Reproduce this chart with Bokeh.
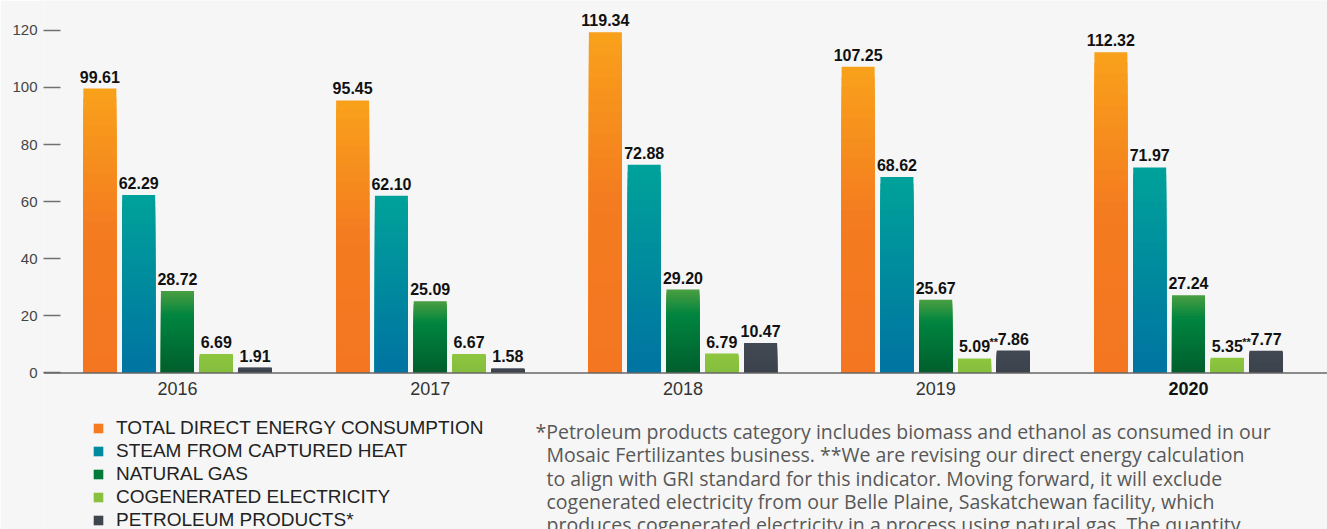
from bokeh.plotting import figure
from bokeh.models import (ColumnDataSource, Range1d, FixedTicker, Span,
                          Legend, LegendItem, Label)
from bokeh.transform import dodge
from bokeh.core.properties import value
from bokeh.embed import file_html
from bokeh.resources import INLINE

# ---------------- data ----------------
years = [2016, 2017, 2018, 2019, 2020]
year_labels = ["2016", "2017", "2018", "2019", "2020"]
series_names = ["TOTAL DIRECT ENERGY CONSUMPTION", "STEAM FROM CAPTURED HEAT",
                "NATURAL GAS", "COGENERATED ELECTRICITY", "PETROLEUM PRODUCTS*"]
total_direct = [99.61, 95.45, 119.34, 107.25, 112.32]
steam_heat = [62.29, 62.10, 72.88, 68.62, 71.97]
natural_gas = [28.72, 25.09, 29.20, 25.67, 27.24]
cogen_elec = [6.69, 6.67, 6.79, 5.09, 5.35]
petroleum = [1.91, 1.58, 10.47, 7.86, 7.77]
cogen_notes = ["", "", "", "**", "**"]
y_ticks = [0, 20, 40, 60, 80, 100, 120]
footnote_lines = [
    "*Petroleum products category includes biomass and ethanol as consumed in our",
    "Mosaic Fertilizantes business. **We are revising our direct energy calculation",
    "to align with GRI standard for this indicator. Moving forward, it will exclude",
    "cogenerated electricity from our Belle Plaine, Saskatchewan facility, which",
    "produces cogenerated electricity in a process using natural gas. The quantity",
]

# ---------------- style ----------------
BG = "#F6F6F6"
gradients = [
    [(0.0, "#F9A11B"), (0.5, "#F47B20"), (1.0, "#F47621")],
    [(0.0, "#00A29A"), (1.0, "#0073A2")],
    [(0.0, "#4B9E41"), (0.3, "#00853F"), (1.0, "#005E2D")],
    [(0.0, "#8DC63F"), (1.0, "#85BD3F")],
    [(0.0, "#424953"), (1.0, "#3B424C")],
]
offsets = [-0.307, -0.1535, 0.0, 0.1535, 0.307]
BAR_W = 0.1306
N_BANDS = 30


def hex2rgb(h):
    h = h.lstrip("#")
    return tuple(int(h[i:i + 2], 16) for i in (0, 2, 4))


def interp(stops, t):
    for (t0, c0), (t1, c1) in zip(stops[:-1], stops[1:]):
        if t <= t1:
            f = 0 if t1 == t0 else (t - t0) / (t1 - t0)
            a, b = hex2rgb(c0), hex2rgb(c1)
            return "#%02x%02x%02x" % tuple(round(a[j] + (b[j] - a[j]) * f) for j in range(3))
    return stops[-1][1]


p = figure(x_range=Range1d(years[0] - 0.530, years[0] + 4.550),
           y_range=Range1d(-54.80, 130.43),
           width=1327, height=529, output_backend="svg", toolbar_location=None,
           x_axis_location=None, y_axis_location="left",
           min_border_left=43, min_border_right=0, min_border_top=0, min_border_bottom=0,
           background_fill_color=BG, border_fill_color=BG, outline_line_color=None)
p.grid.visible = False

ax = p.yaxis[0]
ax.ticker = FixedTicker(ticks=y_ticks)
ax.axis_line_color = None
ax.major_tick_in = 17
ax.major_tick_out = 0
ax.minor_tick_line_color = None
ax.major_tick_line_color = "#707070"
ax.major_tick_line_width = 1.5
ax.major_label_text_font = "Liberation Sans"
ax.major_label_text_font_size = "15px"
ax.major_label_text_color = "#444444"
ax.major_label_standoff = 6

all_series = [total_direct, steam_heat, natural_gas, cogen_elec, petroleum]
legend_items = []
for s, vals in enumerate(all_series):
    xs, tops, cols = [], [], []
    for i, yr in enumerate(years):
        for k in range(N_BANDS):
            xs.append(yr)
            tops.append(vals[i] * (1 - k / N_BANDS))
            cols.append(interp(gradients[s], (k + 0.5) / N_BANDS))
    src = ColumnDataSource(dict(year=xs, top=tops, color=cols))
    r = p.vbar(x=dodge("year", offsets[s]), top="top", bottom=0,
               width=BAR_W, fill_color="color", line_color=None, source=src)
    legend_items.append(LegendItem(label=series_names[s], renderers=[r], index=N_BANDS // 2))

    lab_src = ColumnDataSource(dict(year=years, value=vals, label=["%.2f" % v for v in vals]))
    p.text(x=dodge("year", offsets[s]), y="value", text="label", source=lab_src,
           text_align="center", text_baseline="alphabetic", y_offset=-12,
           text_font=value("Liberation Sans"), text_font_style="bold",
           text_font_size="16px", text_color="#111111")

note_src = ColumnDataSource(dict(year=years, value=cogen_elec, note=cogen_notes))
p.text(x=dodge("year", offsets[3]), y="value", text="note", source=note_src,
       text_align="left", text_baseline="alphabetic", x_offset=15, y_offset=-16,
       text_font=value("Liberation Sans"), text_font_style="bold",
       text_font_size="11px", text_color="#111111")

p.add_layout(Span(location=0, dimension="width", line_color="#666666", line_width=1.5))

yr_src = ColumnDataSource(dict(year=years, zero=[0] * len(years), label=year_labels,
                               style=["normal"] * 4 + ["bold"],
                               color=["#333333"] * 4 + ["#111111"]))
p.text(x="year", y="zero", text="label", source=yr_src, text_align="center",
       text_baseline="alphabetic", y_offset=16, text_font=value("Liberation Sans"),
       text_font_style="style", text_font_size="18px", text_color="color")

legend = Legend(items=legend_items, location=(49, -2.5), orientation="vertical",
                glyph_width=12, glyph_height=12, label_standoff=12, label_height=23,
                spacing=0, padding=0, margin=0, border_line_color=None,
                background_fill_alpha=0, label_text_font="Liberation Sans",
                label_text_font_size="19px", label_text_color="#222222")
p.add_layout(legend)

fn_y = [98, 74.7, 51.4, 28, 4.7]
for j, line in enumerate(footnote_lines):
    p.add_layout(Label(x=492 if j == 0 else 503, y=fn_y[j], x_units="screen", y_units="screen",
                       text=line, text_font="Open Sans", text_font_size="19.5px",
                       text_color="#585858", text_baseline="alphabetic", text_align="left"))

open("out.html", "w").write(file_html(p, INLINE))
